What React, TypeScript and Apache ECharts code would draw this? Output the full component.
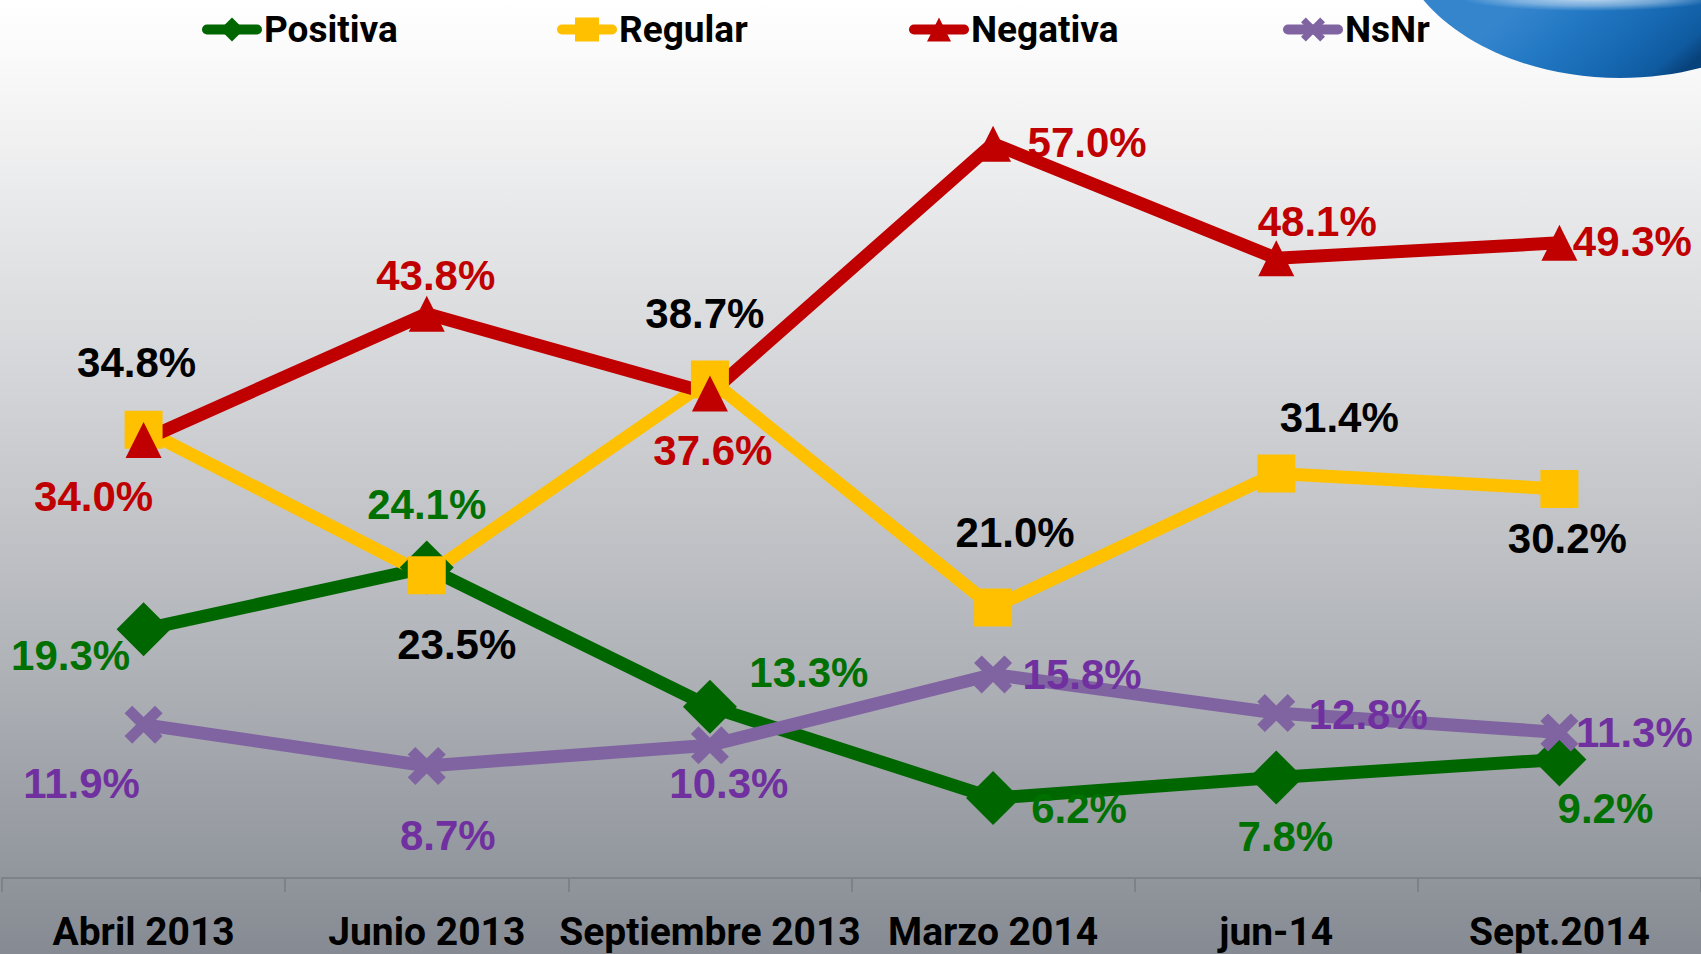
import React, { useEffect, useRef } from "react";
import * as echarts from "echarts";

const categories = ["Abril 2013", "Junio 2013", "Septiembre 2013", "Marzo 2014", "jun-14", "Sept.2014"];
const positiva = [19.3, 24.1, 13.3, 6.2, 7.8, 9.2];
const regular = [34.8, 23.5, 38.7, 21.0, 31.4, 30.2];
const negativa = [34.0, 43.8, 37.6, 57.0, 48.1, 49.3];
const nsnr = [11.9, 8.7, 10.3, 15.8, 12.8, 11.3];
const seriesNames = ["Positiva", "Regular", "Negativa", "NsNr"];

// label offsets (style only)
const offPositiva = [[-73, 26], [0, -63], [99, -34], [86, 10], [9, 59], [46, 49]];
const offRegular = [[-7, -67], [30, 69], [-5, -66], [22, -75], [63, -56], [8, 50]];
const offNegativa = [[-50, 57], [9, -38], [3, 57], [94, -1], [41, -37], [73, -1]];
const offNsnr = [[-62, 59], [21, 70], [19, 38], [89, 0], [92, 1], [75, 0]];

const X_PATH =
  "path://M20,0 L50,30 L80,0 L100,20 L70,50 L100,80 L80,100 L50,70 L20,100 L0,80 L30,50 L0,20 Z";

function buildData(values: number[], offsets: number[][]) {
  return values.map((v, i) => ({
    value: v,
    label: { offset: offsets[i] },
  }));
}

export default function App() {
  const ref = useRef<HTMLDivElement>(null);
  useEffect(() => {
    document.body.style.margin = "0";
    if (!ref.current) return;
    const chart = echarts.init(ref.current, null, { renderer: "svg" });
    const labelFont = {
      fontFamily: "Liberation Sans, Arial, sans-serif",
      fontWeight: "bold" as const,
      fontSize: 42,
      position: "inside" as const,
      formatter: (p: any) => Number(p.value).toFixed(1) + "%",
      show: true,
    };
    const mk = (
      name: string,
      values: number[],
      offs: number[][],
      color: string,
      labelColor: string,
      symbol: string,
      size: number
    ) => ({
      name,
      type: "line",
      data: buildData(values, offs),
      symbol,
      symbolSize: size,
      showAllSymbol: true,
      lineStyle: { color, width: 13, cap: "round", join: "round" },
      itemStyle: { color, borderWidth: 0 },
      label: { ...labelFont, color: labelColor },
      emphasis: { disabled: true },
    });
    const legendLefts = [197, 552, 904, 1278];
    const legends = seriesNames.map((n, i) => ({
      data: [n],
      left: legendLefts[i],
      top: 6,
      itemWidth: 50,
      itemHeight: 30,
      itemGap: 0,
      lineStyle: { width: 10, cap: "round" },
      textStyle: {
        fontFamily: "Roboto, sans-serif",
        fontWeight: "bold",
        fontSize: 37,
        color: "#000",
        padding: [0, 0, 0, 2],
      },
      selectedMode: false,
    }));
    chart.setOption({
      animation: false,
      backgroundColor: new echarts.graphic.LinearGradient(0, 0, 0, 1, [
        { offset: 0, color: "#ffffff" },
        { offset: 0.06, color: "#fafafa" },
        { offset: 0.38, color: "#d6d7da" },
        { offset: 0.7, color: "#afb2b7" },
        { offset: 1, color: "#868b93" },
      ]),
      graphic: [
        {
          type: "ellipse",
          shape: { cx: 1620, cy: -80, rx: 228, ry: 158 },
          z: 0,
          silent: true,
          style: {
            fill: new echarts.graphic.LinearGradient(0.3, 0.74, 0.62, 1, [
              { offset: 0, color: "#3585cd" },
              { offset: 0.3, color: "#2479c4" },
              { offset: 0.65, color: "#1668b2" },
              { offset: 0.88, color: "#0f5a9f" },
              { offset: 1, color: "#08427a" },
            ]),
          },
        },
        {
          type: "ellipse",
          shape: { cx: 1590, cy: -2, rx: 130, ry: 13 },
          z: 1,
          silent: true,
          style: {
            fill: new echarts.graphic.RadialGradient(0.5, 0.5, 0.5, [
              { offset: 0, color: "rgba(255,255,255,0.75)" },
              { offset: 0.6, color: "rgba(215,232,248,0.45)" },
              { offset: 1, color: "rgba(200,225,245,0)" },
            ]),
          },
        },
      ],
      legend: legends,
      grid: { left: 2, width: 1703, top: 105, bottom: 76, containLabel: false },
      xAxis: {
        type: "category",
        data: categories,
        boundaryGap: true,
        axisLine: { show: true, lineStyle: { color: "#7d8288", width: 2 } },
        axisTick: { show: true, length: 14, lineStyle: { color: "#7d8288", width: 2 } },
        axisLabel: {
          margin: 34,
          fontFamily: "Roboto, sans-serif",
          fontWeight: "bold",
          fontSize: 39,
          color: "#000",
          interval: 0,
        },
      },
      yAxis: {
        type: "value",
        min: 0,
        max: 60,
        show: false,
        splitLine: { show: false },
      },
      series: [
        mk("Positiva", positiva, offPositiva, "#006600", "#007000", "diamond", 54),
        mk("Regular", regular, offRegular, "#FFC000", "#000000", "rect", 38),
        mk("Negativa", negativa, offNegativa, "#C00000", "#C00000", "triangle", 36),
        mk("NsNr", nsnr, offNsnr, "#8064A2", "#7030A0", X_PATH, 38),
      ],
    });
    return () => chart.dispose();
  }, []);
  return (
    <div
      ref={ref}
      style={{ position: "absolute", left: 0, top: 0, width: 1701, height: 954 }}
    />
  );
}
